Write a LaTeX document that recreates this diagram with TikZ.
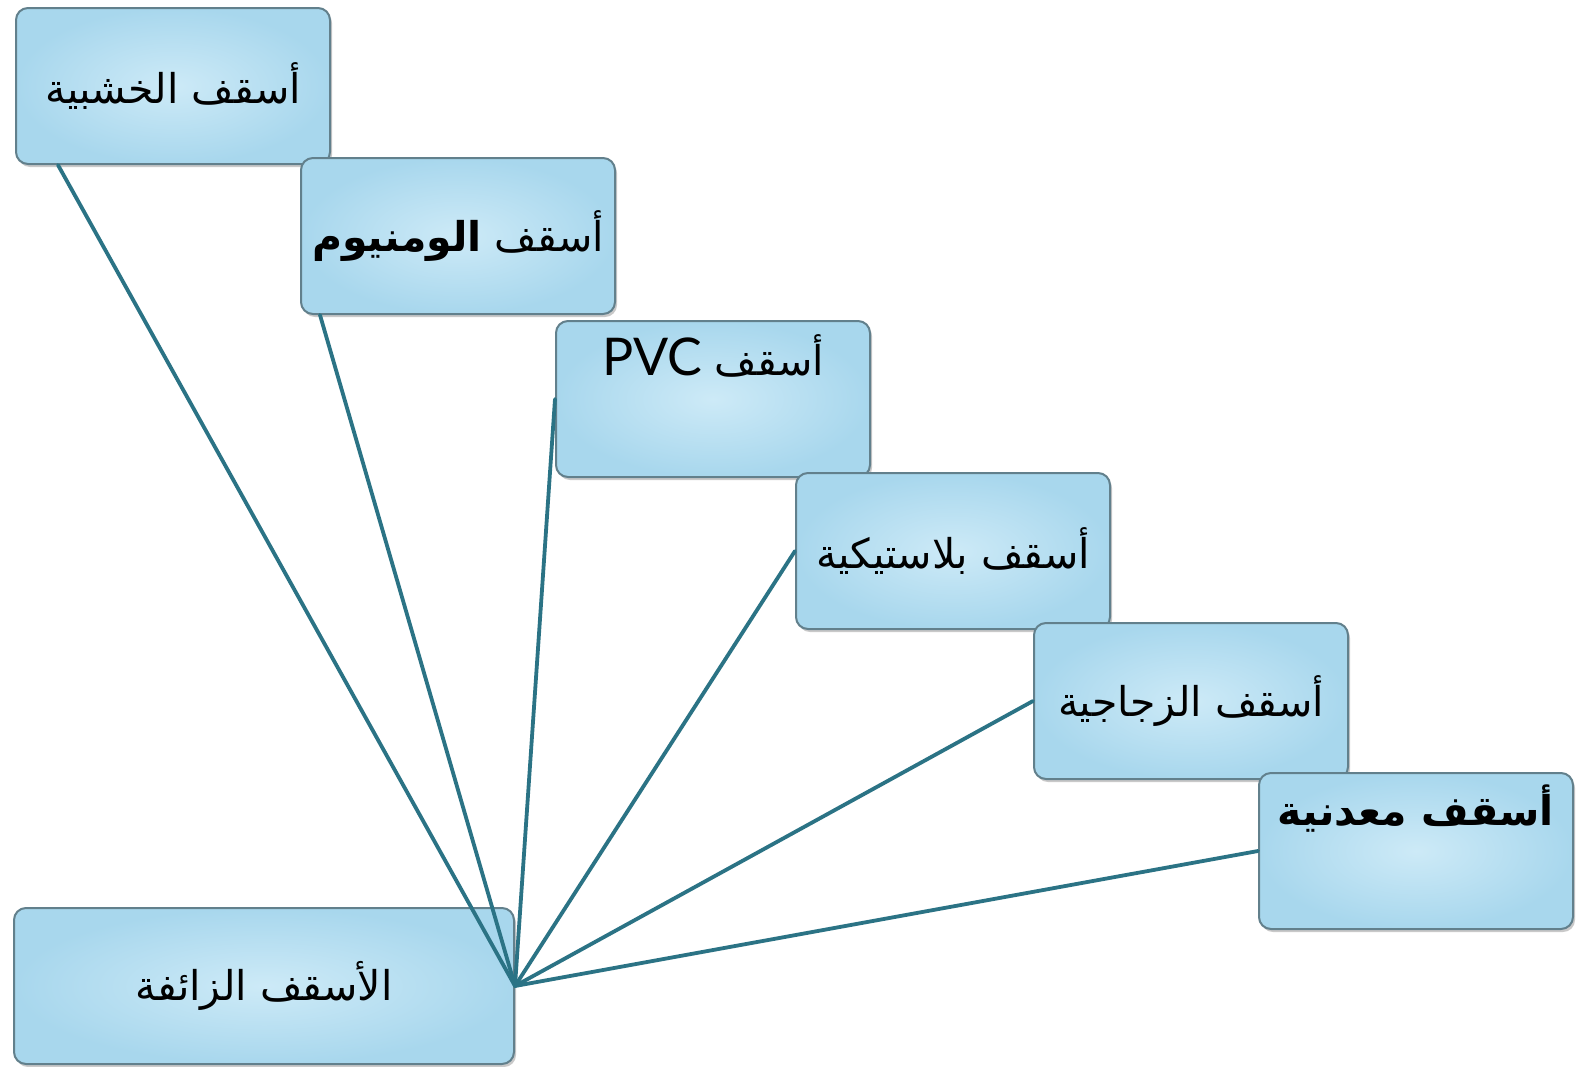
\documentclass[tikz,border=0pt]{standalone}
\usepackage{fontspec}
\setmainfont{DejaVu Sans}
\newfontfamily\arabicfont[Script=Arabic]{DejaVu Sans}
\newfontfamily\latinfont{Lato}
\TeXXeTstate=1
\usetikzlibrary{shadows,backgrounds}
\definecolor{linecol}{HTML}{2B7385}
\definecolor{boxedge}{HTML}{62808C}
\definecolor{boxin}{HTML}{CDEAF7}
\definecolor{boxout}{HTML}{A8D7ED}
\tikzset{
  roofbox/.style={draw=boxedge, line width=1pt, rounded corners=6pt,
    inner color=boxin, outer color=boxout,
    minimum width=157pt, minimum height=78pt, inner sep=0pt, anchor=north west,
    drop shadow={shadow xshift=1pt, shadow yshift=-1.5pt, opacity=0.35, fill=black!60},
    font=\arabicfont\fontsize{20.5}{25}\selectfont},
  rooftext/.style={font=\arabicfont\fontsize{20.5}{25}\selectfont, inner sep=0pt},
  link/.style={draw=linecol, line width=1.9pt, line cap=round},
}
\begin{document}
\begin{tikzpicture}[x=0.5pt,y=-0.5pt]
\useasboundingbox (0,0) rectangle (1585,1066);
\fill[white] (0,0) rectangle (1585,1066);
\node[roofbox] (b1) at (15,7) {\beginR أسقف الخشبية\endR};
\node[roofbox] (b2) at (300,157) {\beginR أسقف \textbf{الومنيوم}\endR};
\node[roofbox] (b3) at (555,320) {};
\node[rooftext] (t3) at ([yshift=-18pt]b3.north) {\beginR أسقف \beginL{\latinfont\fontsize{26}{30}\selectfont PVC}\endL\endR};
\node[roofbox] (b4) at (795,472) {\beginR أسقف بلاستيكية\endR};
\node[roofbox] (b5) at (1033,622) {\beginR أسقف الزجاجية\endR};
\node[roofbox] (b6) at (1258,772) {};
\node[rooftext] (t6) at ([yshift=-18.5pt]b6.north) {\bfseries\beginR أسقف معدنية\endR};
\node[roofbox, minimum width=250pt] (b7) at (13,907) {\beginR الأسقف الزائفة\endR};
\draw[link] (b7.east) -- ([xshift=21.5pt]b1.south west);
\draw[link] (b7.east) -- ([xshift=10pt]b2.south west);
\draw[link] (b7.east) -- (b3.west);
\draw[link] (b7.east) -- (b4.west);
\draw[link] (b7.east) -- (b5.west);
\draw[link] (b7.east) -- (b6.west);
\end{tikzpicture}
\end{document}
